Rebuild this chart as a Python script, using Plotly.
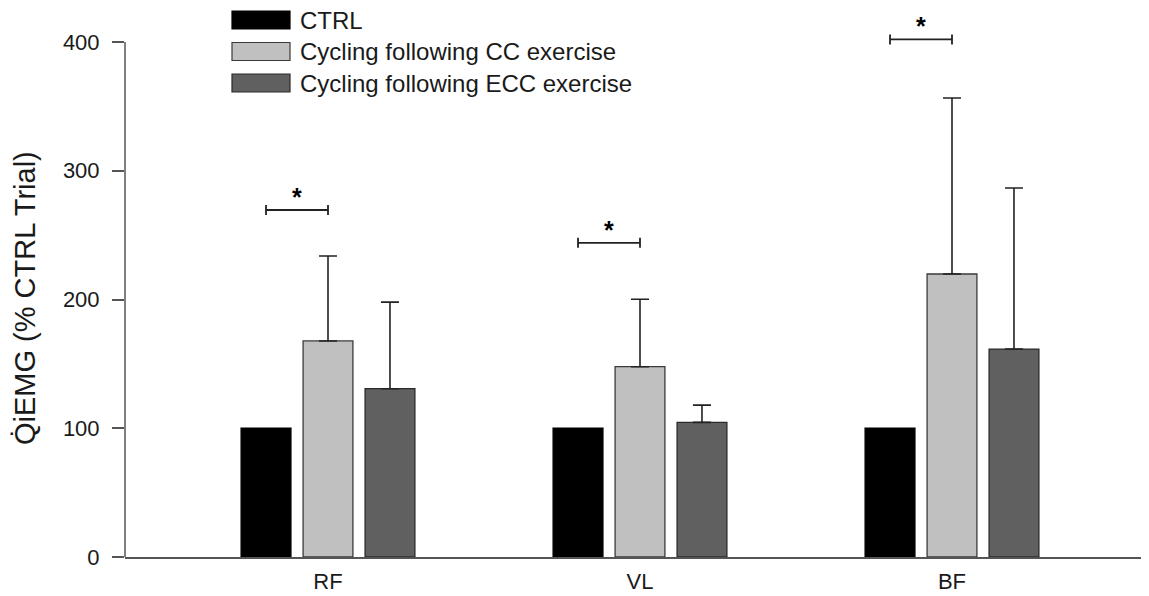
import plotly.graph_objects as go

categories = ["RF", "VL", "BF"]
series_names = ["CTRL", "Cycling following CC exercise", "Cycling following ECC exercise"]
ctrl_vals = [100, 100, 100]
cc_vals = [167.8, 147.8, 219.8]
cc_err = [66.0, 52.4, 136.7]
ecc_vals = [130.7, 104.6, 161.5]
ecc_err = [67.3, 13.4, 125.1]
sig_y = [269.5, 244.0, 402.0]
y_ticks = [0, 100, 200, 300, 400]
y_title = "Q\u0307iEMG (% CTRL Trial)"

colors = ["#000000", "#c0c0c0", "#606060"]
outline = ["#000000", "#3a3a3a", "#2a2a2a"]

BARGAP = 0.404
BARGROUPGAP = 0.196
FONT = "Liberation Sans, Arial, sans-serif"
TXT = "#1a1a1a"

# page body adds an 8px offset; size the figure so it fills the window
OFF = 8
W, H = 1149 - OFF, 596 - OFF
ML, MR, MT, MB = 125 - OFF, 0, 0, 39
PW, PH = W - ML - MR, H - MT - MB
PX_PER_UNIT = 515 / 400.0
Y_TOP = PH / PX_PER_UNIT
X_PER_PX = 1 / 312.0
X_LEFT = -203 * X_PER_PX
X_RIGHT = X_LEFT + PW * X_PER_PX

xpos = list(range(len(categories)))
fig = go.Figure()

data = [(ctrl_vals, None), (cc_vals, cc_err), (ecc_vals, ecc_err)]
for i, (vals, err) in enumerate(data):
    kw = {}
    if err is not None:
        kw["error_y"] = dict(type="data", symmetric=False, array=err,
                             arrayminus=[0] * len(err), color="#222222",
                             thickness=1.6, width=9)
    fig.add_trace(go.Bar(
        x=xpos, y=vals, name=series_names[i],
        marker=dict(color=colors[i], line=dict(color=outline[i], width=1.3)),
        hoverinfo="skip", showlegend=False, **kw))

# significance brackets between CTRL and CC bars
slot = (1 - BARGAP) / 3
ctrl_off = -slot
cc_off = 0.0
mid_off = (ctrl_off + cc_off) / 2
half = (cc_off - ctrl_off) / 2
fig.add_trace(go.Scatter(
    x=[x + mid_off for x in xpos], y=sig_y, mode="markers",
    marker=dict(size=1, opacity=0),
    error_x=dict(type="constant", value=half, color="#222222", thickness=1.8, width=5),
    showlegend=False, hoverinfo="skip"))
for x, y in zip(xpos, sig_y):
    fig.add_annotation(x=x + mid_off, y=y, text="<b>*</b>", showarrow=False,
                       yanchor="bottom", yshift=-3,
                       font=dict(size=25, color="#000000", family=FONT))

# y axis line only up to 400
fig.add_shape(type="line", xref="paper", x0=0, x1=0, yref="y", y0=0, y1=400,
              line=dict(color="#555555", width=1.5))


def px_x(p):
    return (p - OFF - ML) / PW


def px_y(p):
    return 1 - (p - OFF - MT) / PH


# legend (large swatches like the original)
row_centers = [20, 51.5, 83]
for i, name in enumerate(series_names):
    yc = row_centers[i]
    fig.add_shape(type="rect", xref="paper", yref="paper",
                  x0=px_x(232), x1=px_x(290), y0=px_y(yc + 9), y1=px_y(yc - 9),
                  fillcolor=colors[i], line=dict(color=outline[i], width=1.2))
    fig.add_annotation(xref="paper", yref="paper", x=px_x(298), y=px_y(yc),
                       xanchor="left", yanchor="middle", text=name, showarrow=False,
                       font=dict(size=24, color=TXT, family=FONT))

# y-axis title
fig.add_annotation(xref="paper", yref="paper", x=px_x(25), y=px_y(298),
                   xanchor="center", yanchor="middle", textangle=-90,
                   text=y_title, showarrow=False,
                   font=dict(size=29, color=TXT, family=FONT))

fig.update_layout(
    width=W, height=H,
    margin=dict(l=ML, r=MR, t=MT, b=MB, pad=0),
    paper_bgcolor="white", plot_bgcolor="white",
    barmode="group", bargap=BARGAP, bargroupgap=BARGROUPGAP,
    font=dict(family=FONT, size=22, color=TXT),
    showlegend=False,
    xaxis=dict(range=[X_LEFT, X_RIGHT], tickvals=xpos, ticktext=categories,
               showline=True, linecolor="#555555", linewidth=1.5,
               ticks="", showgrid=False, zeroline=False, automargin=False,
               ticklabelstandoff=4,
               tickfont=dict(size=22, color=TXT)),
    yaxis=dict(range=[0, Y_TOP], tickvals=y_ticks, ticks="outside", ticklen=12,
               tickwidth=1.5, tickcolor="#555555", showline=False,
               showgrid=False, zeroline=False, automargin=False,
               ticklabelstandoff=8,
               tickfont=dict(size=22, color=TXT)),
)

fig.write_html("out.html")
